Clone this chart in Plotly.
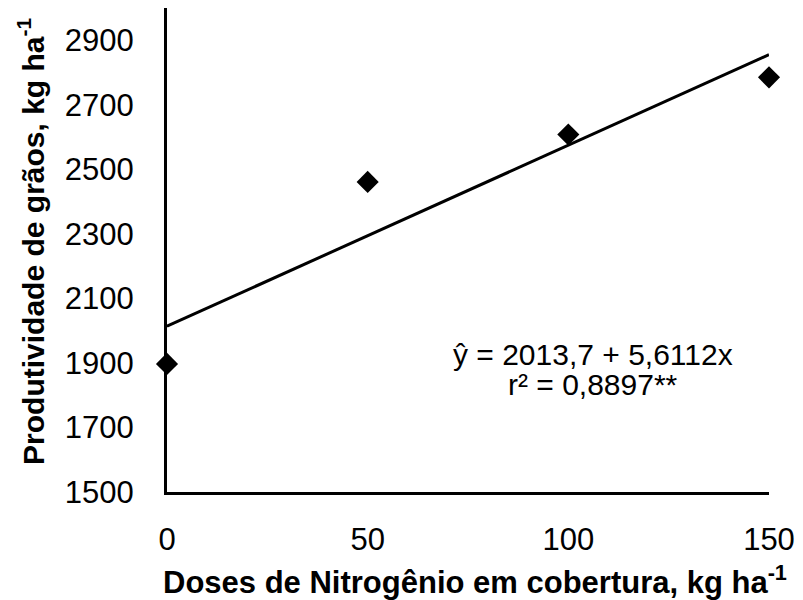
import plotly.graph_objects as go

doses = [0, 50, 100, 150]
produtividade = [1897, 2461, 2608, 2785]
intercept = 2013.7
slope = 5.6112
trend_x = [0, 150]
trend_y = [intercept + slope * x for x in trend_x]
x_ticks = [0, 50, 100, 150]
y_ticks = [1500, 1700, 1900, 2100, 2300, 2500, 2700, 2900]
eq_lines = ["ŷ = 2013,7 + 5,6112x", "r² = 0,8897**"]
x_title = "<b>Doses de Nitrogênio em cobertura, kg ha<sup>-1</sup></b>"
y_title = "<b>Produtividade de grãos, kg ha<sup>-1</sup></b>"

font = "Liberation Sans, Arial, sans-serif"

fig = go.Figure()
fig.add_trace(go.Scatter(x=trend_x, y=trend_y, mode="lines",
                         line=dict(color="black", width=3), cliponaxis=False,
                         showlegend=False))
fig.add_trace(go.Scatter(x=doses, y=produtividade, mode="markers",
                         marker=dict(symbol="diamond", size=17, color="black"),
                         cliponaxis=False, showlegend=False))

for txt, yp in zip(eq_lines, [0.285, 0.223]):
    fig.add_annotation(x=0.708, y=yp, xref="paper", yref="paper", text=txt,
                       showarrow=False, font=dict(family=font, size=30, color="black"),
                       xanchor="center", yanchor="middle")

fig.add_annotation(x=0.512, y=-0.181, xref="paper", yref="paper", text=x_title,
                   showarrow=False, font=dict(family=font, size=31, color="black"),
                   xanchor="center", yanchor="middle")
fig.add_annotation(x=-0.2257, y=0.517, xref="paper", yref="paper", text=y_title,
                   showarrow=False, textangle=-90,
                   font=dict(family=font, size=30, color="black"),
                   xanchor="center", yanchor="middle")

fig.update_layout(
    width=803, height=600,
    margin=dict(l=167, r=29, t=8, b=108),
    paper_bgcolor="white", plot_bgcolor="white",
    font=dict(family=font, size=31, color="black"),
    xaxis=dict(range=[0, 150], tickvals=x_ticks, showgrid=False, zeroline=False,
               showline=True, linecolor="black", linewidth=3, ticks="",
               ticklabelstandoff=18, tickfont=dict(size=31)),
    yaxis=dict(range=[1500, 3000], tickvals=y_ticks, showgrid=False, zeroline=False,
               showline=True, linecolor="black", linewidth=3, ticks="",
               ticklabelstandoff=24, tickfont=dict(size=31)),
)

fig.write_html("out.html", config={"displayModeBar": False},
               post_script="document.body.style.margin='0';document.body.style.overflow='hidden';")
